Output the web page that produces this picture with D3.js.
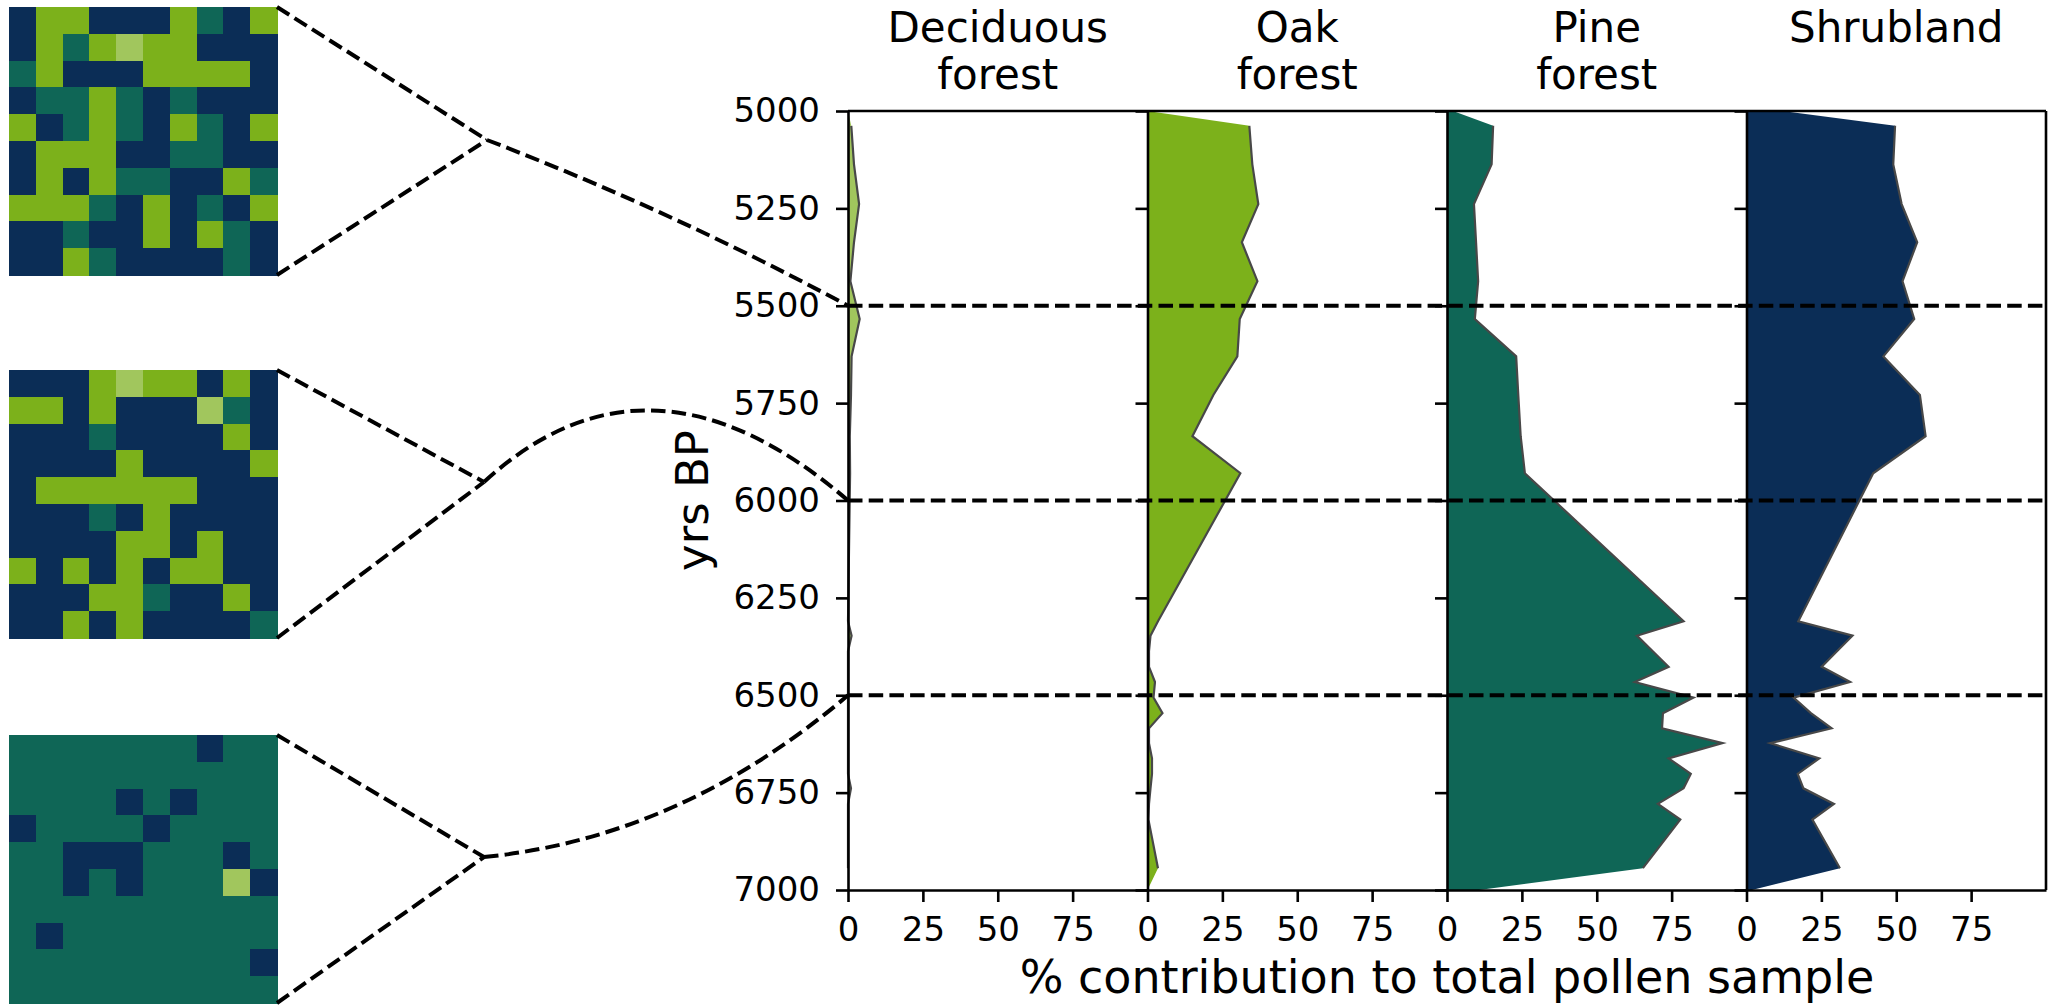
<!DOCTYPE html>
<html>
<head>
<meta charset="utf-8">
<script src="https://cdn.jsdelivr.net/npm/d3@7"></script>
<style>
  body { margin: 0; background: #fff; }
  svg { display: block; }
  text { font-family: "DejaVu Sans", sans-serif; fill: #000; }
</style>
</head>
<body>
<svg id="chart" width="2049" height="1006"></svg>
<script>
// sample ages (yrs BP) of the pollen record
const years = [5000, 5038, 5137, 5239, 5337, 5437, 5534, 5630, 5729, 5835, 5930, 6310, 6347, 6387,
  6427, 6466, 6506, 6546, 6585, 6623, 6662, 6702, 6739, 6779, 6819, 6944, 7000];

// % contribution of each vegetation type, one value per sample age
const deciduous = [0, 1.1, 2, 3.7, 2, 0.8, 3.9, 1.2, 1, 0.6, 0.7, 0, 1.2, 0,
  0, 0, 0, 0, 0, 0, 0, 0, 1, 0, 0, 0, 0];
const oak = [0, 34, 35, 37, 31.5, 36.7, 30.8, 30, 22, 15, 31, 3.5, 1, 0.5,
  0.5, 2.5, 2, 5, 0.5, 0.5, 1.5, 1.5, 1, 0.5, 0.3, 3.5, 0];
const pine = [2, 15.4, 14.9, 9, 9.7, 10.4, 9.3, 23.1, 23.8, 24.6, 26, 79, 63.4, 68.7,
  74, 62.7, 82.3, 72.1, 71.8, 92, 74, 81.4, 79, 70.4, 77.9, 65.4, 10.7];
const shrubland = [12, 49.6, 49, 51.8, 57, 52.1, 56, 45.7, 57.9, 59.8, 42.3, 17.3, 35.4, 30.2,
  25.1, 34.6, 15.7, 21.5, 28.4, 7.9, 24.3, 17.1, 19, 29.2, 22, 31.2, 1.8];

const panelTitles = ['Deciduous\nforest', 'Oak\nforest', 'Pine\nforest', 'Shrubland\n'];
const panelColors = ['#a1c65d', '#7cb11b', '#0f6656', '#0b2d56'];
const yearTicks = [5000, 5250, 5500, 5750, 6000, 6250, 6500, 6750, 7000];
const pctTicks = [0, 25, 50, 75];
const zoneYears = [5500, 6000, 6500];

// landscape snapshots, 10 x 10 cells: L deciduous, G oak, T pine, N shrubland
const grid5500 = ['NGGNNNGTNG', 'NGTGLGGNNN', 'TGNNNGGGGN', 'NTTGTNTNNN', 'GNTGTNGTNG',
  'NGGGNNTTNN', 'NGNGTTNNGT', 'GGGTNGNTNG', 'NNTNNGNGTN', 'NNGTNNNNTN'];
const grid6000 = ['NNNGLGGNGN', 'GGNGNNNLTN', 'NNNTNNNNGN', 'NNNNGNNNNG', 'NGGGGGGNNN',
  'NNNTNGNNNN', 'NNNNGGNGNN', 'GNGNGNGGNN', 'NNNGGTNNGN', 'NNGNGNNNNT'];
const grid6500 = ['TTTTTTTNTT', 'TTTTTTTTTT', 'TTTTNTNTTT', 'NTTTTNTTTT', 'TTNNNTTTNT',
  'TTNTNTTTLN', 'TTTTTTTTTT', 'TNTTTTTTTT', 'TTTTTTTTTN', 'TTTTTTTTTT'];

const series = [deciduous, oak, pine, shrubland];
const grids = [grid5500, grid6000, grid6500];
const cellColor = { L: panelColors[0], G: panelColors[1], T: panelColors[2], N: panelColors[3] };

// layout
const plotLeft = 848, plotRight = 2046, plotTop = 111, plotBottom = 890;
const panelW = (plotRight - plotLeft) / 4;
const gridX = 9, gridSize = 268, gridTops = [7, 370, 735];
const apexes = [[487, 140], [484, 482], [484, 857]];
const bends = [[672, 211], [650, 330], [680, 838]];
const dash = '14.5 6.2';

const svg = d3.select('#chart');

const y = d3.scaleLinear().domain([5000, 7000]).range([plotTop, plotBottom]);

// panels
series.forEach((vals, i) => {
  const x = d3.scaleLinear().domain([0, 100]).range([plotLeft + i * panelW, plotLeft + (i + 1) * panelW]);
  const pts = years.map((yr, k) => ({ year: yr, v: vals[k] }));
  const g = svg.append('g').attr('class', 'panel');

  const area = d3.area()
    .x0(x(0))
    .x1(d => x(d.v))
    .y(d => y(d.year));
  g.append('path')
    .datum(pts)
    .attr('d', area)
    .attr('fill', panelColors[i]);

  const line = d3.line()
    .x(d => x(d.v))
    .y(d => y(d.year));
  g.append('path')
    .datum(pts.slice(1, -1))
    .attr('d', line)
    .attr('fill', 'none')
    .attr('stroke', '#484848')
    .attr('stroke-width', 2.2);

  // left axis
  const yAxis = d3.axisLeft(y).tickValues(yearTicks).tickSize(12).tickSizeOuter(0).tickPadding(16)
    .tickFormat(i > 0 ? '' : d3.format('d'));
  const ya = g.append('g')
    .attr('transform', 'translate(' + x(0) + ',0)')
    .call(yAxis);
  ya.selectAll('text').attr('font-size', 34).attr('font-family', 'DejaVu Sans');

  // bottom axis
  const xAxis = d3.axisBottom(x).tickValues(pctTicks).tickSize(12).tickSizeOuter(0).tickPadding(15);
  const xa = g.append('g')
    .attr('transform', 'translate(0,' + plotBottom + ')')
    .call(xAxis);
  xa.selectAll('text').attr('font-size', 34).attr('font-family', 'DejaVu Sans');

  [ya, xa].forEach(a => {
    a.selectAll('path, line').attr('stroke', '#000').attr('stroke-width', 2.6);
  });

  // title
  const cx = (x(0) + x(100)) / 2;
  const t = svg.append('text')
    .attr('x', cx)
    .attr('y', 42)
    .attr('text-anchor', 'middle')
    .attr('font-size', 42);
  panelTitles[i].split('\n').forEach((s, j) => {
    t.append('tspan').attr('x', cx).attr('dy', j ? 47 : 0).text(s);
  });
});

// top & right spines
svg.append('line')
  .attr('x1', plotLeft).attr('x2', plotRight)
  .attr('y1', plotTop).attr('y2', plotTop)
  .attr('stroke', '#000').attr('stroke-width', 2.6);
svg.append('line')
  .attr('x1', plotRight).attr('x2', plotRight)
  .attr('y1', plotTop).attr('y2', plotBottom)
  .attr('stroke', '#000').attr('stroke-width', 2.6);

// zone boundaries
svg.append('g')
  .selectAll('line')
  .data(zoneYears)
  .join('line')
  .attr('x1', plotLeft).attr('x2', plotRight)
  .attr('y1', d => y(d)).attr('y2', d => y(d))
  .attr('stroke', '#000')
  .attr('stroke-width', 4)
  .attr('stroke-dasharray', dash);

// axis labels
svg.append('text')
  .attr('transform', 'translate(708,' + (plotTop + plotBottom) / 2 + ') rotate(-90)')
  .attr('text-anchor', 'middle')
  .attr('font-size', 45)
  .text('yrs BP');
svg.append('text')
  .attr('x', (plotLeft + plotRight) / 2)
  .attr('y', 993)
  .attr('text-anchor', 'middle')
  .attr('font-size', 46)
  .text('% contribution to total pollen sample');

// landscape grids
const cell = d3.scaleBand().domain(d3.range(10)).range([0, gridSize]);
grids.forEach((rows, gi) => {
  const cells = [];
  rows.forEach((row, r) => row.split('').forEach((c, k) => cells.push({ r: r, c: k, t: c })));
  svg.append('g')
    .attr('transform', 'translate(' + gridX + ',' + gridTops[gi] + ')')
    .attr('shape-rendering', 'crispEdges')
    .selectAll('rect')
    .data(cells)
    .join('rect')
    .attr('x', d => cell(d.c))
    .attr('y', d => cell(d.r))
    .attr('width', cell.bandwidth() + 1)
    .attr('height', cell.bandwidth() + 1)
    .attr('fill', d => cellColor[d.t]);
});

// connectors from each grid to its zone boundary
const conn = svg.append('g')
  .attr('fill', 'none')
  .attr('stroke', '#000')
  .attr('stroke-width', 4)
  .attr('stroke-dasharray', dash);
grids.forEach((rows, gi) => {
  const gx = gridX + gridSize, top = gridTops[gi], bot = gridTops[gi] + gridSize;
  const [ax, ay] = apexes[gi];
  const [cx, cy] = bends[gi];
  conn.append('path').attr('d', 'M' + gx + ',' + top + 'L' + ax + ',' + ay);
  conn.append('path').attr('d', 'M' + gx + ',' + bot + 'L' + ax + ',' + ay);
  const p = d3.path();
  p.moveTo(ax, ay);
  p.quadraticCurveTo(cx, cy, plotLeft, y(zoneYears[gi]));
  conn.append('path').attr('d', p.toString());
});
</script>
</body>
</html>
